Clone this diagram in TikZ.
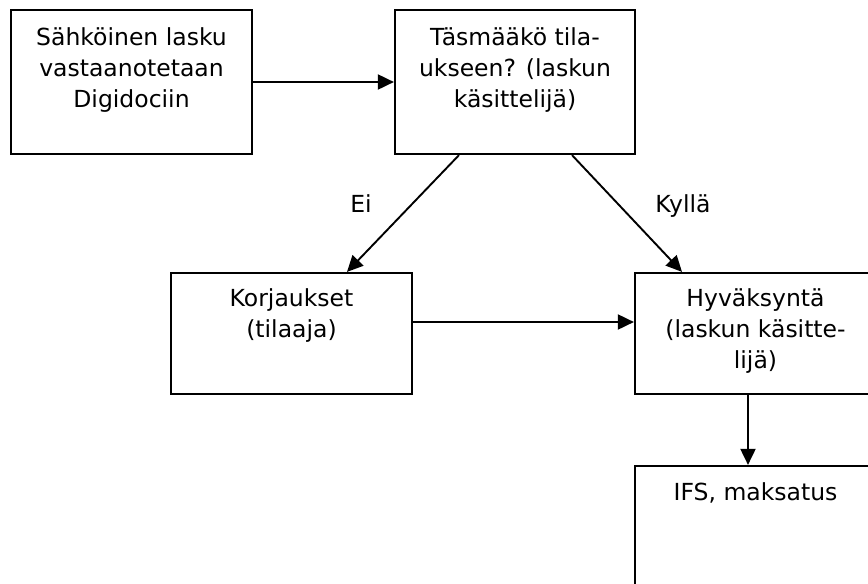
\documentclass[tikz,border=0pt]{standalone}
\usepackage{fontspec}
\setmainfont{DejaVu Sans}
\usetikzlibrary{arrows.meta,positioning}

\tikzset{
  box/.style={draw=black, line width=2.2pt, minimum width=241pt, inner sep=0pt},
  % multi-line texts: the base anchor sits on the last line
  boxtext/.style={anchor=base, align=center, inner sep=0pt,
    font=\fontsize{23.5}{31}\selectfont},
  flow/.style={draw=black, line width=1.9pt,
    -{Triangle[length=16pt, width=15pt]}},
  lab/.style={anchor=base, inner sep=0pt, font=\fontsize{23.5}{31}\selectfont}
}

\begin{document}
\begin{tikzpicture}[x=1pt, y=-1pt]
  \useasboundingbox (0,0) rectangle (868,584);
  \clip (0,0) rectangle (868,584);

  % process boxes
  \node[box, minimum height=144pt] (b1) at (131.5,82) {};
  \node[box, minimum height=144pt, minimum width=240pt] (b2) at (515,82) {};
  \node[box, minimum height=121pt] (b3) at (291.5,333.5) {};
  \node[box, minimum height=121pt] (b4) at (755.5,333.5) {};
  \node[box, minimum height=140pt] (b5) at (755.5,536) {};

  % box texts; first baseline about 36pt below the top edge, 31pt per line
  \node[boxtext] (t1) at ([yshift=-99pt]b1.north)
    {Sähköinen lasku\\vastaanotetaan\\Digidociin};
  \node[boxtext] (t2) at ([yshift=-99pt]b2.north)
    {Täsmääkö tila-\\ukseen? (laskun\\käsittelijä)};
  \node[boxtext] (t3) at ([yshift=-66pt]b3.north)
    {Korjaukset\\(tilaaja)};
  \node[boxtext] (t4) at ([yshift=-97pt]b4.north)
    {Hyväksyntä\\(laskun käsitte-\\lijä)};
  \node[boxtext] (t5) at ([yshift=-36pt]b5.north)
    {IFS, maksatus};

  % connector end points
  \coordinate (noOut)  at ([xshift=-56pt]b2.south);
  \coordinate (noIn)   at ([xshift=55.5pt]b3.north);
  \coordinate (yesOut) at ([xshift=57pt]b2.south);
  \coordinate (yesIn)  at ([xshift=-73.5pt]b4.north);
  \coordinate (fixOut) at ([yshift=11.5pt]b3.east);
  \coordinate (fixIn)  at ([yshift=11.5pt]b4.west);
  \coordinate (okOut)  at ([xshift=-7.5pt]b4.south);
  \coordinate (okIn)   at ([xshift=-7.5pt]b5.north);

  % connectors
  \draw[flow] (b1.east) -- (b2.west);
  \draw[flow] (noOut) -- (noIn);
  \draw[flow] (yesOut) -- (yesIn);
  \draw[flow] (fixOut) -- (fixIn);
  \draw[flow] (okOut) -- (okIn);

  % branch labels
  \node[lab] (ei) at (361,212) {Ei};
  \node[lab] (kylla) at (683,212) {Kyllä};
\end{tikzpicture}
\end{document}
